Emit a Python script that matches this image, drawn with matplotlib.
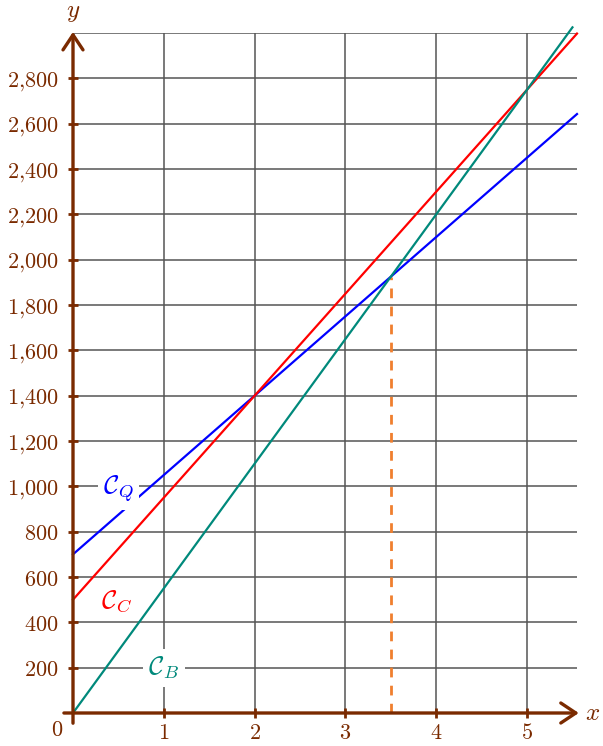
import numpy as np
import matplotlib.pyplot as plt

plt.rcParams['mathtext.fontset'] = 'cm'
plt.rcParams['font.family'] = 'DejaVu Serif'

# lines y = a + b*x
x_end = [5.55, 5.55, 5.5]
intercepts = [700, 500, 0]
slopes = [350, 450, 550]
names = [r'$\mathcal{C}_Q$', r'$\mathcal{C}_C$', r'$\mathcal{C}_B$']
label_pos = [(0.5, 990), (0.48, 495), (1.0, 198)]
colors = ['#0000ff', '#ff0000', '#00897b']

x_ticks = [1, 2, 3, 4, 5]
y_ticks = list(range(200, 3000, 200))
x_cross = 3.5

brown = '#7a2a00'
grid_c = '#555555'

fig = plt.figure(figsize=(6.03, 7.46), dpi=100)
ax = fig.add_axes([73/603, 33/746, 504/603, 680/746])
ax.set_xlim(0, 5.55)
ax.set_ylim(0, 3000)
for s in ax.spines.values():
    s.set_visible(False)

# grid
for xv in x_ticks:
    ax.plot([xv, xv], [0, 3000], color=grid_c, lw=1.1, zorder=1)
for yv in y_ticks + [3000]:
    ax.plot([0, 5.55], [yv, yv], color=grid_c, lw=1.1, zorder=1)

# curves
for a, b, xe, c in zip(intercepts, slopes, x_end, colors):
    xs = np.array([0, xe])
    ax.plot(xs, a + b*xs, color=c, lw=1.6, zorder=3, clip_on=False)

y_cross = intercepts[0] + slopes[0]*x_cross
ax.plot([x_cross, x_cross], [0, y_cross], color='#f07f2e', lw=2,
        dashes=(3.5, 3), zorder=2)

for (lx, ly), nm, c in zip(label_pos, names, colors):
    ax.text(lx, ly, nm, color=c, fontsize=19, ha='center', va='center', zorder=4,
            bbox=dict(facecolor='white', edgecolor='none', pad=4))

# axes with arrows
arrow = dict(arrowstyle='->,head_length=0.45,head_width=0.3', lw=2.4, color=brown,
             mutation_scale=24, shrinkA=0, shrinkB=0)
ax.annotate('', xy=(5.57, 0), xytext=(-0.1, 0), annotation_clip=False,
            arrowprops=arrow, zorder=5)
ax.annotate('', xy=(0, 3005), xytext=(0, -45), annotation_clip=False,
            arrowprops=arrow, zorder=5)

ax.set_xticks(x_ticks)
ax.set_yticks(y_ticks)
ax.set_xticklabels([f'${v}$' for v in x_ticks])
ax.set_yticklabels(['$' + f'{v:,}'.replace(',', '{,}') + '$' for v in y_ticks])
ax.tick_params(direction='inout', length=7, width=2, color=brown,
               labelcolor=brown, labelsize=16)
ax.tick_params(axis='x', pad=3)
ax.tick_params(axis='y', pad=7)

ax.text(-0.18, -75, '$0$', color=brown, fontsize=16, ha='center', va='center')
ax.text(5.72, 0, '$x$', color=brown, fontsize=18, ha='center', va='center')
ax.text(0, 3090, '$y$', color=brown, fontsize=18, ha='center', va='center')

fig.savefig('out.png', dpi=100)
